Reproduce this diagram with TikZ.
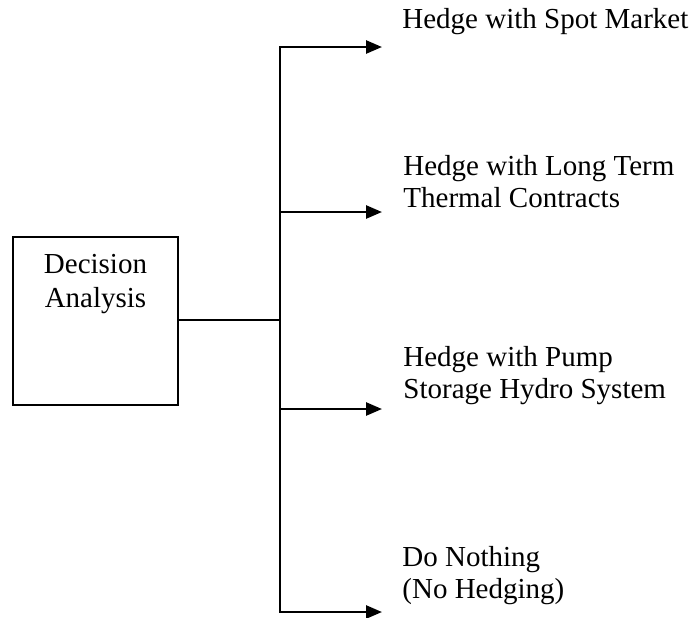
\documentclass[tikz,border=0pt]{standalone}
\usepackage{fontspec}
\setmainfont{Liberation Serif}
\usetikzlibrary{arrows.meta}
\begin{document}
\begin{tikzpicture}[x=0.5pt,y=-0.5pt,
  txt/.style={font=\fontsize{14.5pt}{16pt}\selectfont, inner sep=0pt, align=left, anchor=base west},
  boxstyle/.style={draw, line width=1pt, minimum width=82.5pt, minimum height=84pt, inner sep=0pt},
  wire/.style={line width=1.3pt},
  arr/.style={wire, -{Triangle[length=8pt,width=6.5pt]}}]
\useasboundingbox (0,0) rectangle (694,617);
% decision box and its caption (base anchor sits on the last line)
\node[boxstyle] (da) at (95.5,321) {};
\node[font=\fontsize{14.5pt}{17pt}\selectfont, inner sep=0pt, align=center, anchor=base] (dat) at (95.5,307) {Decision\\Analysis};
% trunk and branch points
\coordinate (j) at (280,320);
\coordinate (t1) at (280,47);
\coordinate (t2) at (280,212);
\coordinate (t3) at (280,409);
\coordinate (t4) at (280,612);
\coordinate (a1) at (382,47);
\coordinate (a2) at (382,212);
\coordinate (a3) at (382,409);
\coordinate (a4) at (382,612);
% option labels
\node[txt] (o1) at (402,28) {Hedge with Spot Market};
\node[txt] (o2) at (403,207) {Hedge with Long Term\\Thermal Contracts};
\node[txt] (o3) at (403,398) {Hedge with Pump\\Storage Hydro System};
\node[txt] (o4) at (402,598) {Do Nothing\\(No Hedging)};
% connectors
\draw[wire] (da.east |- j) -- (j);
\draw[arr] (j) -- (t1) -- (a1);
\draw[arr] (j) -- (t4) -- (a4);
\draw[arr] (t2) -- (a2);
\draw[arr] (t3) -- (a3);
\end{tikzpicture}
\end{document}
